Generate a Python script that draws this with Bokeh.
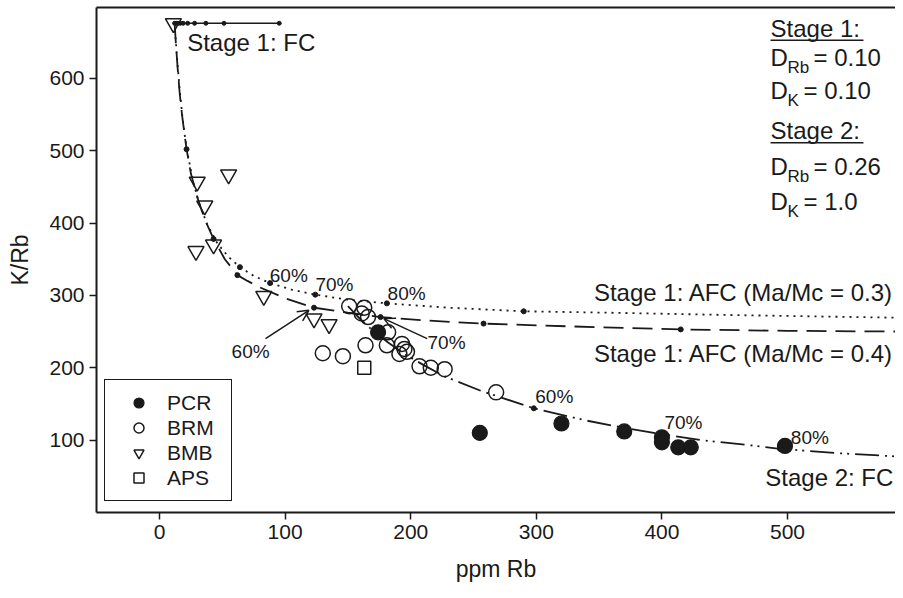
from bokeh.plotting import figure
from bokeh.models import Range1d, Legend, LegendItem, Arrow, OpenHead, LinearAxis, FixedTicker
from bokeh.embed import file_html
from bokeh.resources import INLINE
from bokeh.core.properties import value

FONT = "Liberation Sans"
INK = "#1a1a1a"

# ---------------- samples (ppm Rb, K/Rb) ----------------
pcr_rb = [174, 255, 320, 370, 400, 400, 413, 423, 498]
pcr_kr = [249, 110, 123, 112, 104, 97, 90, 90, 92]

brm_rb = [151, 161, 163, 166, 182, 164, 181, 193, 195, 197, 191, 207, 216, 227, 130, 146, 268]
brm_kr = [285, 275, 283, 270, 249, 231, 231, 233, 226, 222, 219, 202, 200, 198, 220, 216, 166]

bmb_rb = [11, 30, 55, 36, 29, 43, 83, 123, 135]
bmb_kr = [676, 457, 467, 424, 361, 370, 299, 268, 260]

aps_rb = [163]
aps_kr = [200]

# ---------------- model curves ----------------
fc1_rb = [12.0, 13.2, 14.7, 16.5, 18.8, 22.4, 27.9, 36.9, 51.3, 95.3]
fc1_kr = [676, 676, 676, 676, 676, 676, 676, 676, 676, 676]

afc3_rb = [12, 13, 14.5, 16, 18, 20, 23, 27, 32, 38, 46, 55, 64, 75, 88, 105, 124, 150, 181, 230, 290, 360, 450, 592]
afc3_kr = [676, 650, 615, 585, 550, 522, 490, 455, 425, 398, 372, 353, 339, 327, 317, 308, 301, 294, 289, 283, 278, 276, 273, 269]
afc3_tick_rb = [64, 88, 124, 181, 290, 591]
afc3_tick_kr = [339, 317, 301, 289, 278, 269]

afc4_rb = [12, 13, 14.5, 16, 18, 21.5, 25, 30, 36, 43, 52, 62, 70, 80, 100, 123, 150, 176, 215, 258, 330, 415, 500, 592]
afc4_kr = [676, 648, 612, 580, 548, 502, 468, 436, 405, 378, 350, 328, 320, 311, 296, 283, 276, 270, 265, 261, 257, 253, 251, 250]
afc4_tick_rb = [21.5, 43, 62, 123, 176, 258, 415]
afc4_tick_kr = [502, 378, 328, 283, 270, 261, 253]

fc2_rb = [150, 160, 170, 182, 195, 210, 227, 256, 298, 340, 370, 401, 431, 470, 494, 540, 592]
fc2_kr = [285, 267, 251, 235, 219, 204, 188, 168, 144, 127, 117, 108, 100, 93, 88, 82, 77]
fc2_tick_rb = [298, 400, 494]
fc2_tick_kr = [144, 108, 88]

# percentage labels
pct_text = ["60%", "70%", "80%", "60%", "70%", "80%", "60%", "70%"]
pct_rb = [102.9, 139.3, 196.7, 314.3, 417.2, 517.8, 72.5, 228.5]
pct_kr = [327.7, 315.2, 303.2, 159.6, 124.0, 104.0, 221.8, 234.7]

# arrows (label -> curve tick)
arr_from_rb = [84.4, 213.1]
arr_from_kr = [240.3, 240.3]
arr_to_rb = [118.9, 178.6]
arr_to_kr = [279.3, 267.9]

x_ticks = [0, 100, 200, 300, 400, 500]
y_ticks = [100, 200, 300, 400, 500, 600]

p = figure(width=895, height=590, output_backend="svg", toolbar_location=None,
           x_range=Range1d(-50.2, 586.0), y_range=Range1d(0, 697.8),
           min_border_left=96, min_border_right=0, min_border_top=7, min_border_bottom=78,
           background_fill_color="white", border_fill_color="white")
p.outline_line_color = None
p.xgrid.grid_line_color = None
p.ygrid.grid_line_color = None

p.xaxis.ticker = FixedTicker(ticks=x_ticks)
p.yaxis.ticker = FixedTicker(ticks=y_ticks)
p.xaxis.axis_label = "ppm Rb"
p.yaxis.axis_label = "K/Rb"
for ax in (p.xaxis[0], p.yaxis[0]):
    ax.axis_line_width = 2
    ax.axis_line_color = INK
    ax.major_tick_line_width = 1.5
    ax.major_tick_line_color = INK
    ax.major_tick_out = 7
    ax.major_tick_in = 0
    ax.minor_tick_line_color = None
    ax.major_label_text_font = FONT
    ax.major_label_text_font_size = "21px"
    ax.major_label_text_color = INK
    ax.axis_label_text_font = FONT
    ax.axis_label_text_font_size = "23px"
    ax.axis_label_text_font_style = "normal"
    ax.axis_label_text_color = INK
p.xaxis.major_label_standoff = 5
p.xaxis.axis_label_standoff = 14
p.yaxis.major_label_standoff = 5
p.yaxis.axis_label_standoff = 13

top = LinearAxis(ticker=FixedTicker(ticks=[]), major_label_text_font_size="0px",
                 major_tick_out=0, major_tick_in=0, minor_tick_out=0, minor_tick_in=0,
                 major_label_standoff=0, axis_line_width=2, axis_line_color=INK)
p.add_layout(top, "above")

# curves
p.line(fc1_rb, fc1_kr, line_color=INK, line_width=1.6)
p.scatter(fc1_rb, fc1_kr, size=4, color=INK)
p.line(afc3_rb, afc3_kr, line_color=INK, line_width=1.8, line_dash="2 5")
p.scatter(afc3_tick_rb, afc3_tick_kr, size=5, color=INK)
p.line(afc4_rb, afc4_kr, line_color=INK, line_width=1.8, line_dash="20 9")
p.scatter(afc4_tick_rb, afc4_tick_kr, size=5, color=INK)
p.line(fc2_rb, fc2_kr, line_color=INK, line_width=1.8, line_dash="24 6 2 5 2 6")
p.scatter(fc2_tick_rb, fc2_tick_kr, size=5, color=INK)

# samples
r_pcr = p.scatter(pcr_rb, pcr_kr, marker="circle", size=15, fill_color=INK, line_color=INK, line_width=1.2)
r_brm = p.scatter(brm_rb, brm_kr, marker="circle", size=15, fill_color=None, line_color=INK, line_width=1.5)
r_bmb = p.scatter(bmb_rb, bmb_kr, marker="inverted_triangle", size=16, fill_color=None, line_color=INK, line_width=1.5)
r_aps = p.scatter(aps_rb, aps_kr, marker="square", size=13, fill_color=None, line_color=INK, line_width=1.5)

# arrows
for i in range(len(arr_from_rb)):
    p.add_layout(Arrow(end=OpenHead(size=11, line_width=1.5, line_color=INK),
                       x_start=arr_from_rb[i], y_start=arr_from_kr[i],
                       x_end=arr_to_rb[i], y_end=arr_to_kr[i],
                       line_width=1.5, line_color=INK))

# percentage labels
p.text(pct_rb, pct_kr, text=pct_text, text_font=value(FONT), text_font_size=value("19px"),
       text_align="center", text_baseline="middle", text_color=INK)

# curve names
big = dict(text_font=value(FONT), text_font_size=value("24px"), text_align="left",
           text_baseline="middle", text_color=INK)
big_r = dict(big, text_align="right")
p.text([22], [650], text=["Stage 1: FC"], **big)
p.text([584.3, 584.3, 584.3], [304.6, 219.6, 48.7],
       text=["Stage 1: AFC (Ma/Mc = 0.3)", "Stage 1: AFC (Ma/Mc = 0.4)", "Stage 2: FC"], **big_r)

# partition coefficient block
bx = 486.5
p.text([bx, bx], [669, 528], text=["Stage 1:", "Stage 2:"], **big)
p.segment([bx, bx], [652.6, 511.0], [560.5, 560.5], [652.6, 511.0], line_color=INK, line_width=1.5)
p.text([bx, bx, bx, bx], [629, 583.4, 478.5, 430.2], text=["D", "D", "D", "D"], **big)
p.text([bx, bx, bx, bx], [629, 583.4, 478.5, 430.2], text=["Rb", "K", "Rb", "K"],
       x_offset=17, y_offset=10, text_font=value(FONT), text_font_size=value("17px"),
       text_align="left", text_baseline="middle", text_color=INK)
p.text([bx, bx, bx, bx], [629, 583.4, 478.5, 430.2], text=["= 0.10", "= 0.10", "= 0.26", "= 1.0"],
       x_offset=[43, 33, 43, 33], text_font=value(FONT), text_font_size=value("24px"),
       text_align="left", text_baseline="middle", text_color=INK)

# legend
legend = Legend(items=[LegendItem(label="PCR", renderers=[r_pcr]),
                       LegendItem(label="BRM", renderers=[r_brm]),
                       LegendItem(label="BMB", renderers=[r_bmb]),
                       LegendItem(label="APS", renderers=[r_aps])],
                location=(8, 11), orientation="vertical",
                border_line_color=INK, border_line_width=1.5, border_line_alpha=1,
                background_fill_color="white", background_fill_alpha=1,
                label_text_font=FONT, label_text_font_size="21px", label_text_color=INK,
                glyph_width=47, glyph_height=25, label_height=25, label_width=54,
                spacing=0, padding=10, margin=0, label_standoff=5)
p.add_layout(legend)

open("out.html", "w").write(file_html(p, INLINE))
